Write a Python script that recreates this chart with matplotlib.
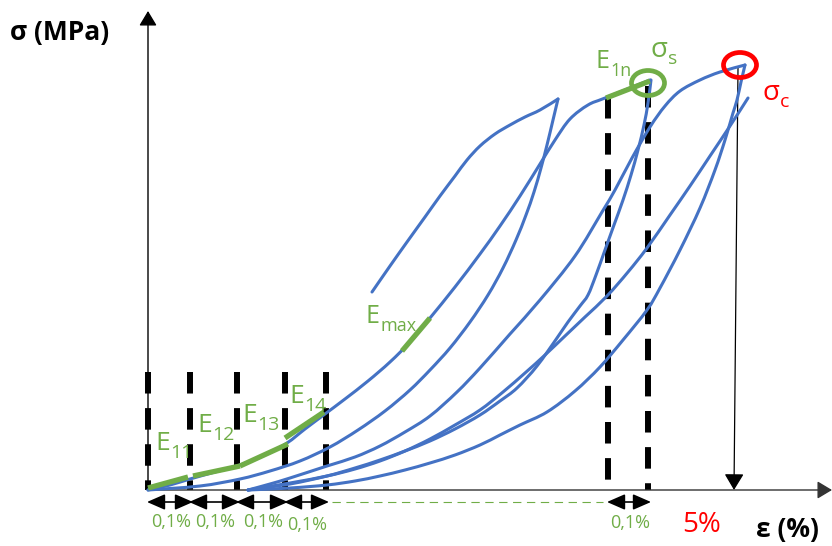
import matplotlib
matplotlib.use('Agg')
import matplotlib.pyplot as plt
import numpy as np
from matplotlib.patches import Ellipse, PathPatch
from matplotlib.path import Path

plt.rcParams['lines.scale_dashes'] = False
FONT = ['Open Sans', 'DejaVu Sans']

BLUE = '#4472C4'
GREEN = '#70AD47'
RED = '#FF0000'

# stress-strain traces, in canvas units (x to the right, y downward)
load_first = [(148, 490), (170, 485), (190, 479), (215, 472), (240, 465), (265, 455),
              (287, 443), (305, 429), (325, 414), (345, 399), (368, 381), (390, 362),
              (410, 342), (430, 318), (455, 287), (480, 254), (500, 226), (520, 196),
              (540, 164), (555, 140), (570, 119), (588, 105), (605, 98), (650, 80)]
upper_arc = [(372, 292), (390, 266), (407, 242), (425, 217), (440, 196), (455, 176),
             (467, 160), (480, 146), (495, 134), (510, 125), (525, 117), (540, 110),
             (558, 99)]
unload_a = [(558, 99), (553, 120), (547, 145), (541, 168), (534, 192), (526, 215),
            (516, 240), (503, 268), (488, 295), (470, 322), (450, 348), (430, 370),
            (410, 390), (385, 411), (358, 430), (330, 447), (300, 461), (270, 471),
            (240, 479), (200, 486), (148, 490)]
load_c = [(248, 490), (270, 484), (290, 478), (327, 466), (355, 457), (380, 446),
          (405, 432), (430, 416), (457, 392), (480, 368), (510, 334), (540, 300),
          (575, 256), (602, 212), (615, 190), (632, 158), (650, 127), (665, 106),
          (680, 91), (700, 80), (720, 72), (745, 65)]
load_d = [(248, 490), (290, 483), (327, 476), (355, 469), (380, 461), (405, 451),
          (430, 439), (455, 425), (480, 410), (503, 392), (525, 373), (545, 355),
          (565, 336), (585, 317), (607, 296), (628, 272), (647, 248), (670, 215),
          (690, 186), (710, 156), (730, 126), (748, 98)]
unload_s = [(651, 80), (648, 103), (644, 125), (638, 150), (631, 175), (623, 200),
            (614, 225), (605, 250), (596, 275), (588, 295), (580, 306), (568, 322),
            (557, 338), (537, 366), (517, 388), (500, 401), (480, 415), (455, 429),
            (430, 441), (405, 451), (380, 460), (355, 468), (327, 476), (290, 484),
            (248, 490)]
unload_c = [(745, 65), (741, 82), (737, 100), (733, 113), (725, 140), (715, 170),
            (700, 208), (680, 250), (660, 288), (647, 310), (623, 340), (600, 367),
            (575, 391), (547, 412), (520, 425), (500, 435), (480, 445), (455, 455),
            (430, 463), (405, 470), (380, 476), (355, 481), (327, 485), (290, 488),
            (248, 490)]
curves = [load_first, upper_arc, unload_a, load_c, load_d, unload_s, unload_c]

# tangent segments for the moduli
moduli = {
    'E11': [(148, 488), (188, 477)],
    'E12': [(193, 476), (240, 466)],
    'E13': [(240, 466), (288, 444)],
    'E14': [(285, 438), (324, 412)],
    'Emax': [(402, 351), (430, 318)],
    'E1n': [(606, 98), (650, 81)],
}
mod_labels = [('E', '11', 155, 450, 19, 14), ('E', '12', 197, 432, 19, 14),
              ('E', '13', 242, 422, 19, 14), ('E', '14', 289, 403, 19, 14),
              ('E', 'max', 366, 323, 18, 13), ('E', '1n', 596, 68, 18, 13)]

# strain steps of 0,1 %
steps_left = [148, 190, 237, 285, 326]
steps_right = [608, 648]
step_label = '0,1%'
x_axis_y = 490

fig = plt.figure(figsize=(8.32, 5.46), dpi=100)
ax = fig.add_axes([0, 0, 1, 1])
ax.set_xlim(0, 832)
ax.set_ylim(546, 0)
ax.axis('off')


def smooth_path(pts):
    # Catmull-Rom through the given points, written as cubic Bezier pieces
    p = np.asarray(pts, dtype=float)
    verts = [p[0]]
    codes = [Path.MOVETO]
    for i in range(len(p) - 1):
        p0 = p[i - 1] if i > 0 else p[i]
        p1, p2 = p[i], p[i + 1]
        p3 = p[i + 2] if i + 2 < len(p) else p[i + 1]
        verts += [p1 + (p2 - p0) / 6, p2 - (p3 - p1) / 6, p2]
        codes += [Path.CURVE4] * 3
    return Path(verts, codes)


# axes with arrows
ax.annotate('', xy=(148, 11), xytext=(148, x_axis_y),
            arrowprops=dict(arrowstyle='-|>,head_length=0.45,head_width=0.27',
                            mutation_scale=20, color='black', lw=1.0,
                            shrinkA=0, shrinkB=0))
ax.annotate('', xy=(832, x_axis_y), xytext=(148, x_axis_y),
            arrowprops=dict(arrowstyle='-|>,head_length=0.45,head_width=0.27',
                            mutation_scale=20, color='#333333', lw=1.0,
                            shrinkA=0, shrinkB=0))

# dashed guides
for x in steps_left:
    ax.plot([x, x], [372, x_axis_y], color='black', lw=4.3, dashes=(15.5, 10.5), zorder=2)
ax.plot([608, 608], [97, x_axis_y], color='black', lw=4.3, dashes=(15.5, 10.5), zorder=2)
ax.plot([648, 648], [86, x_axis_y], color='black', lw=4.3, dashes=(15.5, 10.5), zorder=2)

for pts in curves:
    ax.add_patch(PathPatch(smooth_path(pts), fill=False, ec=BLUE, lw=2.2,
                           joinstyle='round', capstyle='round', zorder=3))

for seg in moduli.values():
    xs, ys = zip(*seg)
    ax.plot(xs, ys, color=GREEN, lw=3.8, solid_capstyle='butt', zorder=4)


def sub_label(x, y, main, sub, color, size, sub_size, drop=4):
    t = ax.text(x, y, main, color=color, fontsize=size, ha='left', va='baseline',
                family=FONT, zorder=5)
    ax.annotate(sub, xy=(1, 0), xycoords=t, xytext=(0.5, -drop),
                textcoords='offset points', color=color, fontsize=sub_size,
                ha='left', va='bottom', family=FONT, zorder=5)


for main, sub, x, y, s1, s2 in mod_labels:
    sub_label(x, y, main, sub, GREEN, s1, s2)
sub_label(650, 57, 'σ', 's', GREEN, 20, 14, drop=3)
sub_label(762, 100, 'σ', 'c', RED, 20, 14, drop=3)

# marked peaks
ax.add_patch(Ellipse((648, 83), 33, 25, fill=False, ec=GREEN, lw=3.4, zorder=5))
ax.add_patch(Ellipse((740, 65), 33, 25, fill=False, ec=RED, lw=3.4, zorder=5))

# drop line from the peak down to 5 %
ax.annotate('', xy=(734, x_axis_y), xytext=(738, 68),
            arrowprops=dict(arrowstyle='-|>,head_length=0.5,head_width=0.3',
                            mutation_scale=20, color='black', lw=0.9,
                            shrinkA=0, shrinkB=0), zorder=2)

# step arrows under the axis
arrow_y = 502
steps = list(zip(steps_left[:-1], steps_left[1:])) + [tuple(steps_right)]
label_y = [527, 527, 527, 530, 528]
for (a, b), ly in zip(steps, label_y):
    ax.annotate('', xy=(b + 3, arrow_y), xytext=(a - 1, arrow_y),
                arrowprops=dict(arrowstyle='<|-|>,head_length=0.55,head_width=0.24',
                                mutation_scale=20, color='black', lw=1.2,
                                shrinkA=0, shrinkB=0))
    ax.text((a + b) / 2 + 2, ly, step_label, color=GREEN, fontsize=13,
            ha='center', va='baseline', family=FONT)
ax.plot([332, 603], [arrow_y, arrow_y], color=GREEN, lw=0.8, dashes=(6, 4))

ax.text(682, 532, '5%', color=RED, fontsize=20, ha='left', va='baseline', family=FONT)
ax.text(756, 537, 'ε (%)', color='black', fontsize=19, fontweight='bold',
        ha='left', va='baseline', family=FONT)
ax.text(10, 40, 'σ (MPa)', color='black', fontsize=19, fontweight='bold',
        ha='left', va='baseline', family=FONT)

fig.savefig('out.png', dpi=100)
